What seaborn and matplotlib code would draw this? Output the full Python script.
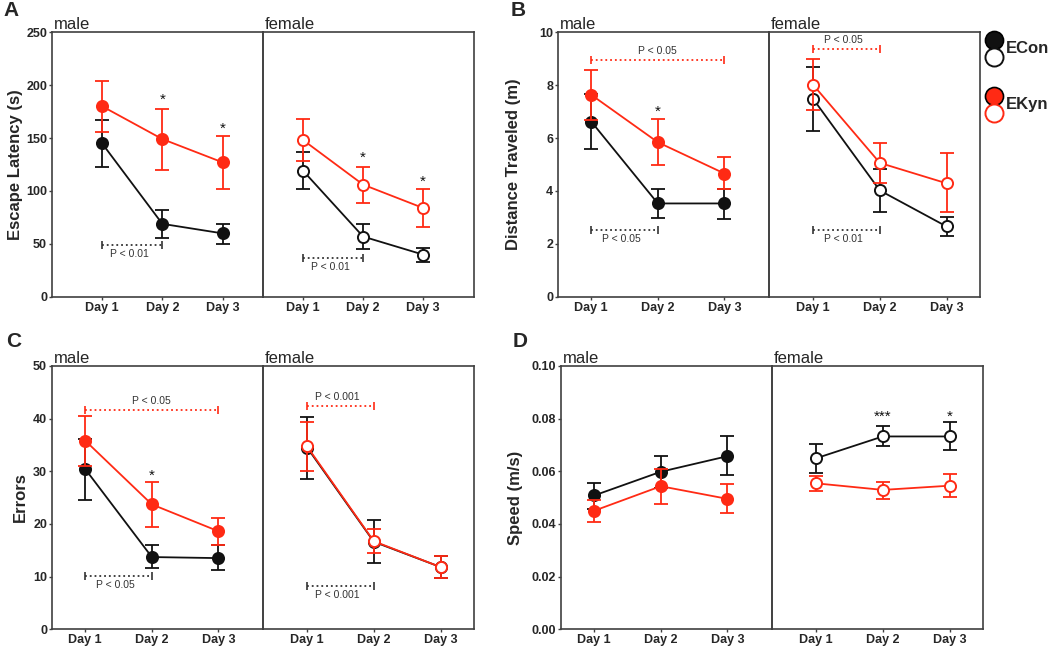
import matplotlib
matplotlib.use('Agg')
import matplotlib.pyplot as plt
from matplotlib.lines import Line2D
import numpy as np
import pandas as pd
import seaborn as sns

days = ['Day 1', 'Day 2', 'Day 3']

# A: escape latency (s): mean, lower / upper end of error bar
lat_m_con, lat_m_con_lo, lat_m_con_hi = [145, 69, 60], [123, 56, 50], [167, 82, 69]
lat_m_kyn, lat_m_kyn_lo, lat_m_kyn_hi = [180, 149, 127], [156, 120, 102], [204, 177, 152]
lat_f_con, lat_f_con_lo, lat_f_con_hi = [119, 57, 40], [102, 45, 33], [137, 69, 46]
lat_f_kyn, lat_f_kyn_lo, lat_f_kyn_hi = [148, 106, 84], [128, 89, 66], [168, 123, 102]

# B: distance traveled (m)
dist_m_con, dist_m_con_lo, dist_m_con_hi = [6.62, 3.53, 3.53], [5.59, 2.97, 2.96], [7.65, 4.08, 4.08]
dist_m_kyn, dist_m_kyn_lo, dist_m_kyn_hi = [7.63, 5.84, 4.66], [6.69, 4.99, 4.07], [8.56, 6.71, 5.28]
dist_f_con, dist_f_con_lo, dist_f_con_hi = [7.48, 4.02, 2.66], [6.26, 3.21, 2.30], [8.68, 4.82, 3.02]
dist_f_kyn, dist_f_kyn_lo, dist_f_kyn_hi = [8.01, 5.06, 4.29], [7.04, 4.32, 3.19], [8.98, 5.81, 5.42]

# C: errors
err_m_con, err_m_con_lo, err_m_con_hi = [30.4, 13.7, 13.5], [24.6, 11.6, 11.2], [36.2, 15.9, 15.9]
err_m_kyn, err_m_kyn_lo, err_m_kyn_hi = [35.8, 23.7, 18.6], [31.0, 19.5, 15.9], [40.5, 28.0, 21.2]
err_f_con, err_f_con_lo, err_f_con_hi = [34.5, 16.6, 11.8], [28.6, 12.5, 9.8], [40.3, 20.7, 13.9]
err_f_kyn, err_f_kyn_lo, err_f_kyn_hi = [34.7, 16.7, 11.8], [30.0, 14.5, 9.8], [39.4, 19.0, 13.9]

# D: speed (m/s)
spd_m_con, spd_m_con_lo, spd_m_con_hi = [0.0508, 0.0598, 0.0657], [0.0458, 0.0537, 0.0584], [0.0557, 0.0659, 0.0733]
spd_m_kyn, spd_m_kyn_lo, spd_m_kyn_hi = [0.0450, 0.0543, 0.0495], [0.0408, 0.0477, 0.0440], [0.0491, 0.0608, 0.0550]
spd_f_con, spd_f_con_lo, spd_f_con_hi = [0.0649, 0.0732, 0.0732], [0.0594, 0.0695, 0.0680], [0.0702, 0.0771, 0.0785]
spd_f_kyn, spd_f_kyn_lo, spd_f_kyn_hi = [0.0554, 0.0529, 0.0545], [0.0525, 0.0496, 0.0502], [0.0583, 0.0560, 0.0588]

# significance marks: (half, day index, y, text)
stars_A = [('m', 1, 186, '*'), ('m', 2, 159, '*'), ('f', 1, 131, '*'), ('f', 2, 109, '*')]
stars_B = [('m', 1, 7.0, '*')]
stars_C = [('m', 1, 29.2, '*')]
stars_D = [('f', 1, 0.0807, '***'), ('f', 2, 0.0807, '*')]

# brackets: (half, from day, to day, y, text, colour, text above?)
brk_A = [('m', 0, 1, 49, 'P < 0.01', 'k', False), ('f', 0, 1, 36.8, 'P < 0.01', 'k', False)]
brk_B = [('m', 0, 2, 8.95, 'P < 0.05', 'r', True), ('m', 0, 1, 2.54, 'P < 0.05', 'k', False),
         ('f', 0, 1, 9.36, 'P < 0.05', 'r', True), ('f', 0, 1, 2.54, 'P < 0.01', 'k', False)]
brk_C = [('m', 0, 2, 41.6, 'P < 0.05', 'r', True), ('m', 0, 1, 10.1, 'P < 0.05', 'k', False),
         ('f', 0, 1, 42.3, 'P < 0.001', 'r', True), ('f', 0, 1, 8.25, 'P < 0.001', 'k', False)]

BLACK = '#111111'
RED = '#ff2a14'
SPINE = '#404040'

sns.set_style('white')
plt.rcParams['font.family'] = ['Liberation Sans', 'DejaVu Sans']

fig = plt.figure(figsize=(10.5, 6.47), dpi=100)


def draw_series(ax, mean, lo, hi, color, filled, z):
    x = np.arange(len(days))
    df = pd.DataFrame({'x': x, 'y': mean})
    mean = np.array(mean)
    yerr = [mean - np.array(lo), np.array(hi) - mean]
    ax.errorbar(x, mean, yerr=yerr, fmt='none', ecolor=color, elinewidth=1.3,
                capsize=5, capthick=1.3, zorder=z)
    sns.lineplot(data=df, x='x', y='y', ax=ax, color=color, lw=1.3, marker='o',
                 markersize=8, mfc=color if filled else 'white', mec=color, mew=1.4,
                 zorder=z + 1, legend=False)


def setup_half(ax, xlim, ylim, yticks, ytfmt, show_y):
    ax.set_xlim(*xlim)
    ax.set_ylim(*ylim)
    ax.set_xticks(range(len(days)))
    ax.set_xticklabels(days, fontsize=9, fontweight='bold')
    ax.set_xlabel('')
    ax.set_ylabel('')
    ax.set_yticks(yticks)
    if show_y:
        ax.set_yticklabels([ytfmt.format(v) for v in yticks], fontsize=9, fontweight='bold')
    else:
        ax.set_yticklabels([])
        ax.tick_params(axis='y', length=0)
    for s in ax.spines.values():
        s.set_color(SPINE)
        s.set_linewidth(1.2)
    ax.tick_params(axis='both', direction='out', length=2.5, width=1, color=SPINE, pad=1,
                   bottom=True, left=show_y)
    ax.patch.set_alpha(0)


def panel(rect_m, rect_f, xlim_m, xlim_f, ylim, yticks, ytfmt, ylabel, label_x,
          male, female, stars, brackets):
    axm = fig.add_axes(rect_m)
    axf = fig.add_axes(rect_f)
    halves = {'m': axm, 'f': axf}
    for ax, series, filled in [(axm, male, True), (axf, female, False)]:
        (c_mean, c_lo, c_hi), (k_mean, k_lo, k_hi) = series
        draw_series(ax, c_mean, c_lo, c_hi, BLACK, filled, 3)
        draw_series(ax, k_mean, k_lo, k_hi, RED, filled, 5)
    setup_half(axm, xlim_m, ylim, yticks, ytfmt, True)
    setup_half(axf, xlim_f, ylim, yticks, ytfmt, False)
    axm.set_ylabel(ylabel, fontsize=12, fontweight='bold')
    axm.yaxis.set_label_coords(label_x, 0.5)
    axm.text(0.01, 1.0, 'male', transform=axm.transAxes, fontsize=12, va='bottom', ha='left')
    axf.text(0.01, 1.0, 'female', transform=axf.transAxes, fontsize=12, va='bottom', ha='left')
    for half, d, y, t in stars:
        halves[half].text(d, y, t, ha='center', va='center', fontsize=11, color=BLACK, zorder=8)
    for half, d0, d1, y, t, c, above in brackets:
        ax = halves[half]
        col = RED if c == 'r' else '#333333'
        ax.plot([d0, d1], [y, y], ls=':', lw=1.3, color=col, zorder=7)
        ax.plot([d0, d1], [y, y], ls='none', marker='|', ms=6, mew=1.2, color=col, zorder=7)
        ax.annotate(t, xy=((d0 + d1) / 2 - (0.05 if d1 - d0 == 1 else 0), y),
                    xytext=(0, 3 if above else -3), textcoords='offset points',
                    ha='center', va='bottom' if above else 'top', fontsize=7.5, color='#333333')
    return axm, axf


top_y, top_h = 0.541, 0.4095
bot_y, bot_h = 0.0275, 0.407

panel([0.0495, top_y, 0.2010, top_h], [0.2505, top_y, 0.2009, top_h],
      (-0.83, 2.67), (-0.67, 2.85), (0, 250), [0, 50, 100, 150, 200, 250], '{:.0f}',
      'Escape Latency (s)', -0.137,
      [(lat_m_con, lat_m_con_lo, lat_m_con_hi), (lat_m_kyn, lat_m_kyn_lo, lat_m_kyn_hi)],
      [(lat_f_con, lat_f_con_lo, lat_f_con_hi), (lat_f_kyn, lat_f_kyn_lo, lat_f_kyn_hi)],
      stars_A, brk_A)

panel([0.5314, top_y, 0.2010, top_h], [0.7324, top_y, 0.2009, top_h],
      (-0.5, 2.67), (-0.66, 2.5), (0, 10), [0, 2, 4, 6, 8, 10], '{:.0f}',
      'Distance Traveled (m)', -0.175,
      [(dist_m_con, dist_m_con_lo, dist_m_con_hi), (dist_m_kyn, dist_m_kyn_lo, dist_m_kyn_hi)],
      [(dist_f_con, dist_f_con_lo, dist_f_con_hi), (dist_f_kyn, dist_f_kyn_lo, dist_f_kyn_hi)],
      stars_B, brk_B)

panel([0.0495, bot_y, 0.2010, bot_h], [0.2505, bot_y, 0.2009, bot_h],
      (-0.5, 2.67), (-0.66, 2.5), (0, 50), [0, 10, 20, 30, 40, 50], '{:.0f}',
      'Errors', -0.114,
      [(err_m_con, err_m_con_lo, err_m_con_hi), (err_m_kyn, err_m_kyn_lo, err_m_kyn_hi)],
      [(err_f_con, err_f_con_lo, err_f_con_hi), (err_f_kyn, err_f_kyn_lo, err_f_kyn_hi)],
      stars_C, brk_C)

panel([0.5343, bot_y, 0.2009, bot_h], [0.7352, bot_y, 0.2009, bot_h],
      (-0.5, 2.67), (-0.66, 2.5), (0, 0.10), [0, 0.02, 0.04, 0.06, 0.08, 0.10], '{:.2f}',
      'Speed (m/s)', -0.18,
      [(spd_m_con, spd_m_con_lo, spd_m_con_hi), (spd_m_kyn, spd_m_kyn_lo, spd_m_kyn_hi)],
      [(spd_f_con, spd_f_con_lo, spd_f_con_hi), (spd_f_kyn, spd_f_kyn_lo, spd_f_kyn_hi)],
      stars_D, [])

# panel letters
for x, y, t in [(0.003, 0.998, 'A'), (0.486, 0.998, 'B'), (0.006, 0.487, 'C'), (0.488, 0.487, 'D')]:
    fig.text(x, y, t, fontsize=15, fontweight='bold', va='top', ha='left')

# legend: filled + open marker stacked next to one label
W, H = 1050, 647
for ys, color, lab in [((40, 57), BLACK, 'ECon'), ((96, 113), RED, 'EKyn')]:
    fig.add_artist(Line2D([994 / W], [1 - ys[0] / H], marker='o', ms=13, mfc=color,
                          mec='black', mew=1.2, transform=fig.transFigure))
    fig.add_artist(Line2D([994 / W], [1 - ys[1] / H], marker='o', ms=13, mfc='white',
                          mec=color, mew=1.4, transform=fig.transFigure))
    fig.text(1006 / W, 1 - (ys[0] + ys[1]) / 2 / H, lab, fontsize=12, fontweight='bold',
             va='center', ha='left')

fig.savefig('out.png', dpi=100)
